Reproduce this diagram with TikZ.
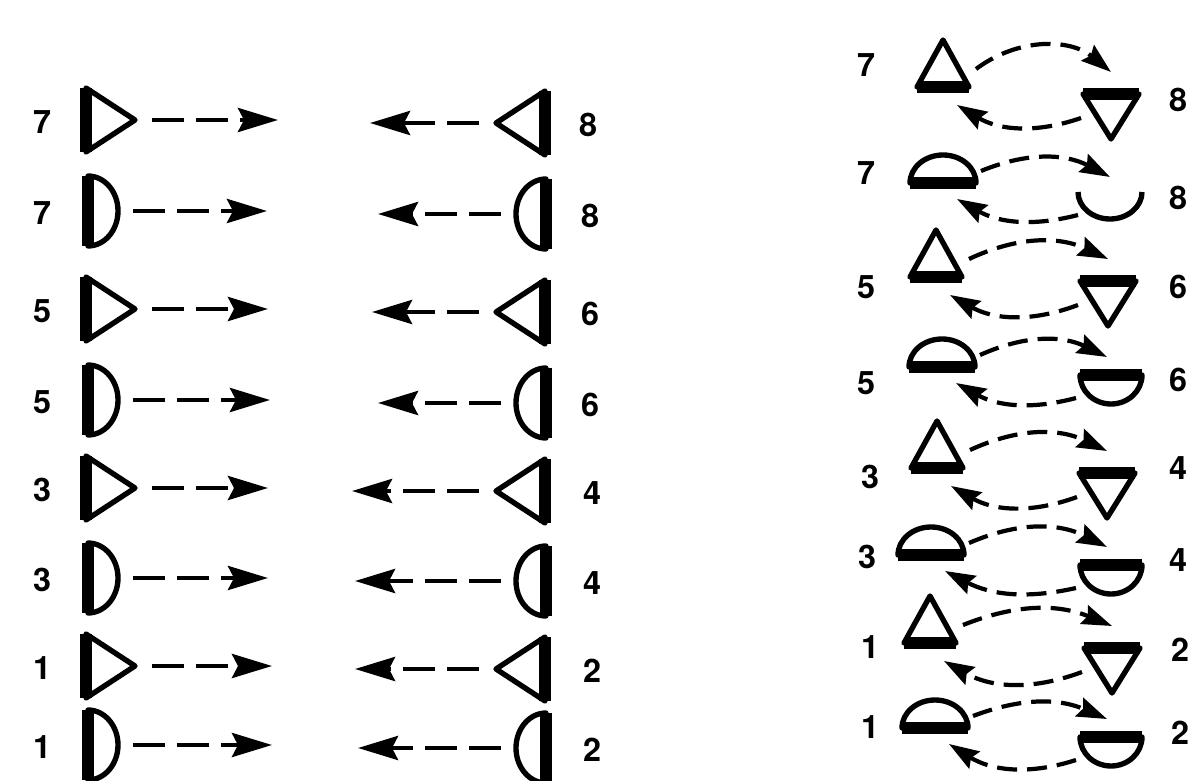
\documentclass[tikz,border=0pt]{standalone}
\usepackage{fontspec}
\setmainfont{TeX Gyre Heros}
\usepackage{tikz}
\usetikzlibrary{arrows.meta}

\begin{document}
\begin{tikzpicture}[
    x=0.25mm, y=-0.25mm,
    contorno/.style={line width=3.8pt, line join=round},
    base/.style={line width=8pt},
    seta/.style={-{Stealth[length=10mm,width=6mm,inset=1.5mm]}, line width=3.2pt, dash pattern=on 8mm off 3mm},
    seta curva/.style={-{Stealth[length=7.5mm,width=5mm,inset=1mm]}, line width=3pt, dash pattern=on 5mm off 2.5mm},
    num/.style={font=\fontsize{23}{25}\selectfont\bfseries, inner sep=0pt},
    % triangulo com base grossa a esquerda
    ptri/.pic={
        \draw[contorno] (0,-32) -- (49,0) -- (0,32) -- cycle;
        \draw[base] (0,-32) -- (0,32);
        \coordinate (-saida) at (66,0);
    },
    % meio disco com base grossa a esquerda
    pmeia/.pic={
        \draw[contorno] (0,-35) arc[start angle=-90, end angle=90, x radius=30, y radius=35] -- cycle;
        \draw[base] (0,-35) -- (0,35);
        \coordinate (-saida) at (45,0);
    },
    % triangulo para cima, origem no meio da base
    ptricima/.pic={
        \draw[contorno] (-26,0) -- (0,-47) -- (26,0) -- cycle;
        \draw[base] (-26,0) -- (26,0);
        \coordinate (-saida) at (33,-18);
        \coordinate (-entrada) at (14,18);
    },
    % triangulo para baixo, origem no meio do topo
    ptribaixo/.pic={
        \draw[contorno] (-28,0) -- (0,45) -- (28,0) -- cycle;
        \draw[base] (-28,0) -- (28,0);
        \coordinate (-entrada) at (0,-22);
        \coordinate (-saida) at (-30,24);
    },
    % cupula, origem no meio da base
    pcupula/.pic={
        \draw[contorno] (-33,0) arc[start angle=180, end angle=360, x radius=33, y radius=28] -- cycle;
        \draw[base] (-33,0) -- (33,0);
        \coordinate (-saida) at (38,-12);
        \coordinate (-entrada) at (14,16);
    },
    % tigela, origem no meio do topo
    ptigela/.pic={
        \draw[contorno] (-31,0) arc[start angle=180, end angle=0, x radius=31, y radius=29] -- cycle;
        \draw[base] (-31,0) -- (31,0);
        \coordinate (-entrada) at (-4,-18);
        \coordinate (-saida) at (-35,23);
    },
    % arco aberto
    parco/.pic={
        \draw[contorno] (-32,0) arc[start angle=180, end angle=0, x radius=32, y radius=27];
        \coordinate (-entrada) at (0,-15);
        \coordinate (-saida) at (-32,23);
    }
]
\useasboundingbox[fill=white] (0,0) rectangle (1198,781);

% Coluna esquerda - formas
\pic (L1) at (86,120) {ptri};
\pic (L2) at (88,211) {pmeia};
\pic (L3) at (86,309) {ptri};
\pic (L4) at (88,400) {pmeia};
\pic (L5) at (86,488) {ptri};
\pic (L6) at (88,578) {pmeia};
\pic (L7) at (86,666) {ptri};
\pic (L8) at (88,745) {pmeia};

\pic[xscale=-1] (R1) at (545,123) {ptri};
\pic[xscale=-1] (R2) at (546,214) {pmeia};
\pic[xscale=-1] (R3) at (545,312) {ptri};
\pic[xscale=-1] (R4) at (546,403) {pmeia};
\pic[xscale=-1] (R5) at (545,491) {ptri};
\pic[xscale=-1] (R6) at (546,581) {pmeia};
\pic[xscale=-1] (R7) at (545,669) {ptri};
\pic[xscale=-1] (R8) at (546,748) {pmeia};

% Numeros
\node[num] (nl1) at (42,122) {7};
\node[num] (nl2) at (42,213) {7};
\node[num] (nl3) at (42,311) {5};
\node[num] (nl4) at (42,402) {5};
\node[num] (nl5) at (42,490) {3};
\node[num] (nl6) at (42,580) {3};
\node[num] (nl7) at (42,668) {1};
\node[num] (nl8) at (42,747) {1};

\node[num] (nr1) at (588,125) {8};
\node[num] (nr2) at (590,216) {8};
\node[num] (nr3) at (590,314) {6};
\node[num] (nr4) at (590,405) {6};
\node[num] (nr5) at (592,493) {4};
\node[num] (nr6) at (592,583) {4};
\node[num] (nr7) at (592,671) {2};
\node[num] (nr8) at (592,750) {2};

% Pontas livres das setas
\coordinate (fl1) at (278,120);
\coordinate (fl2) at (267,211);
\coordinate (fl3) at (268,309);
\coordinate (fl4) at (270,400);
\coordinate (fl5) at (268,488);
\coordinate (fl6) at (268,578);
\coordinate (fl7) at (272,666);
\coordinate (fl8) at (272,745);

\coordinate (fr1) at (370,123);
\coordinate (fr2) at (378,214);
\coordinate (fr3) at (372,312);
\coordinate (fr4) at (378,403);
\coordinate (fr5) at (352,491);
\coordinate (fr6) at (355,581);
\coordinate (fr7) at (355,669);
\coordinate (fr8) at (358,748);

\draw[seta] (L1-saida) -- (fl1);
\draw[seta] (L2-saida) -- (fl2);
\draw[seta] (L3-saida) -- (fl3);
\draw[seta] (L4-saida) -- (fl4);
\draw[seta] (L5-saida) -- (fl5);
\draw[seta] (L6-saida) -- (fl6);
\draw[seta] (L7-saida) -- (fl7);
\draw[seta] (L8-saida) -- (fl8);

\draw[seta] (R1-saida) -- (fr1);
\draw[seta] (R2-saida) -- (fr2);
\draw[seta] (R3-saida) -- (fr3);
\draw[seta] (R4-saida) -- (fr4);
\draw[seta] (R5-saida) -- (fr5);
\draw[seta] (R6-saida) -- (fr6);
\draw[seta] (R7-saida) -- (fr7);
\draw[seta] (R8-saida) -- (fr8);

% Coluna direita - pares
\pic (A1) at (943,87) {ptricima};
\pic (B1) at (1111,94) {ptribaixo};
\pic (A2) at (943,183) {pcupula};
\pic (B2) at (1110,192) {parco};
\pic (A3) at (936,277) {ptricima};
\pic (B3) at (1108,281) {ptribaixo};
\pic (A4) at (942,367) {pcupula};
\pic (B4) at (1111,375) {ptigela};
\pic (A5) at (937,468) {ptricima};
\pic (B5) at (1107,473) {ptribaixo};
\pic (A6) at (931,555) {pcupula};
\pic (B6) at (1111,565) {ptigela};
\pic (A7) at (930,643) {ptricima};
\pic (B7) at (1112,648) {ptribaixo};
\pic (A8) at (935,728) {pcupula};
\pic (B8) at (1111,737) {ptigela};

\node[num] (na1) at (866,65) {7};
\node[num] (na2) at (866,173) {7};
\node[num] (na3) at (866,287) {5};
\node[num] (na4) at (866,383) {5};
\node[num] (na5) at (870,477) {3};
\node[num] (na6) at (867,557) {3};
\node[num] (na7) at (870,647) {1};
\node[num] (na8) at (870,727) {1};

\node[num] (nb1) at (1178,100) {8};
\node[num] (nb2) at (1178,198) {8};
\node[num] (nb3) at (1178,287) {6};
\node[num] (nb4) at (1178,380) {6};
\node[num] (nb5) at (1178,468) {4};
\node[num] (nb6) at (1178,560) {4};
\node[num] (nb7) at (1180,650) {2};
\node[num] (nb8) at (1180,733) {2};

\draw[seta curva] (A1-saida) to[bend left=38] (B1-entrada);
\draw[seta curva] (B1-saida) to[bend left=25] (A1-entrada);
\draw[seta curva] (A2-saida) to[bend left=25] (B2-entrada);
\draw[seta curva] (B2-saida) to[bend left=22] (A2-entrada);
\draw[seta curva] (A3-saida) to[bend left=25] (B3-entrada);
\draw[seta curva] (B3-saida) to[bend left=25] (A3-entrada);
\draw[seta curva] (A4-saida) to[bend left=25] (B4-entrada);
\draw[seta curva] (B4-saida) to[bend left=22] (A4-entrada);
\draw[seta curva] (A5-saida) to[bend left=25] (B5-entrada);
\draw[seta curva] (B5-saida) to[bend left=25] (A5-entrada);
\draw[seta curva] (A6-saida) to[bend left=25] (B6-entrada);
\draw[seta curva] (B6-saida) to[bend left=20] (A6-entrada);
\draw[seta curva] (A7-saida) to[bend left=22] (B7-entrada);
\draw[seta curva] (B7-saida) to[bend left=25] (A7-entrada);
\draw[seta curva] (A8-saida) to[bend left=22] (B8-entrada);
\draw[seta curva] (B8-saida) to[bend left=25] (A8-entrada);

\end{tikzpicture}
\end{document}
